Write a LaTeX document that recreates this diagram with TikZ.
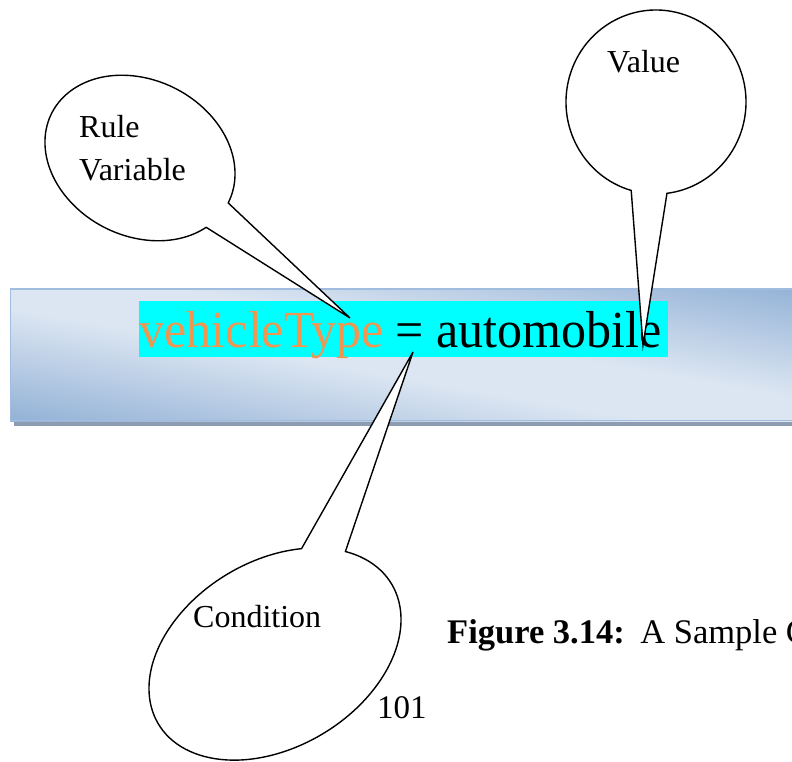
\documentclass[tikz,border=0pt]{standalone}
\usepackage{fontspec}
\setmainfont{Liberation Serif}
\definecolor{bdark}{RGB}{149,179,215}
\definecolor{blight}{RGB}{220,230,242}
\definecolor{bline}{RGB}{160,188,222}
\definecolor{bshadow}{RGB}{141,156,176}
\definecolor{hcyan}{RGB}{0,255,255}
\definecolor{vorange}{RGB}{240,150,80}
\pgfdeclareverticalshading{bannershade}{100bp}{color(0bp)=(bdark); color(43.4bp)=(bdark); color(48.8bp)=(blight); color(51.2bp)=(blight); color(56.6bp)=(bdark); color(100bp)=(bdark)}
\begin{document}
\begin{tikzpicture}[x=1pt,y=-1pt,
  callout/.style={draw=black,line width=1.4pt,fill=white,line join=miter},
  lbl/.style={font=\fontsize{32}{32}\selectfont,inner sep=0pt,anchor=base west},
  tnr/.style={font=\fontsize{33}{33}\selectfont,inner sep=0pt,anchor=base west}]
\useasboundingbox (0,0) rectangle (792,762);
% banner
\fill[bshadow] (14,292) rectangle (800,425.5);
\begin{scope}
  \clip (10,288) rectangle (800,421);
  \shade[shading=bannershade,shading angle=-10] (-75,-143) rectangle (925,857);
\end{scope}
\draw[bline,line width=1.5pt] (800,289) -- (10.7,289) -- (10.7,420.3) -- (800,420.3);
\fill[hcyan] (139,301) rectangle (668,357);
\node[inner sep=0pt,anchor=base west,font=\fontsize{52}{52}\selectfont] (expr) at (139.5,347)
  {\scalebox{0.962}[1]{\textcolor{vorange}{vehicleType} = automobile}};
% tips
\coordinate (tipR) at (350,318);
\coordinate (tipV) at (643,345);
\coordinate (tipC) at (413,352);
% Rule Variable callout
\begin{scope}[shift={(140,158)},rotate=-27]
  \draw[callout] (24:99 and 78) arc[start angle=24,end angle=360,x radius=99,y radius=78] -- (tipR) -- cycle;
\end{scope}
% Value callout
\begin{scope}[shift={(656,102)}]
  \draw[callout] (106:90 and 92) arc[start angle=106,end angle=443,x radius=90,y radius=92] -- (tipV) -- cycle;
\end{scope}
% Condition callout
\begin{scope}[shift={(275,654)},rotate=31]
  \draw[callout] (-33.7:136 and 93) arc[start angle=-33.7,end angle=304.5,x radius=136,y radius=93] -- (tipC) -- cycle;
\end{scope}
\node[lbl] (rule) at (79,138) {Rule};
\node[lbl] (var) at (79,181) {Variable};
\node[lbl] (val) at (607,73) {Value};
\node[lbl] (cond) at (193,627) {Condition};
\node[tnr] (pg) at (377,718) {101};
\node[tnr,font=\fontsize{34.5}{34.5}\selectfont] (cap) at (447,643) {\textbf{Figure 3.14:}\hspace{4pt} A Sample C};
\end{tikzpicture}
\end{document}
